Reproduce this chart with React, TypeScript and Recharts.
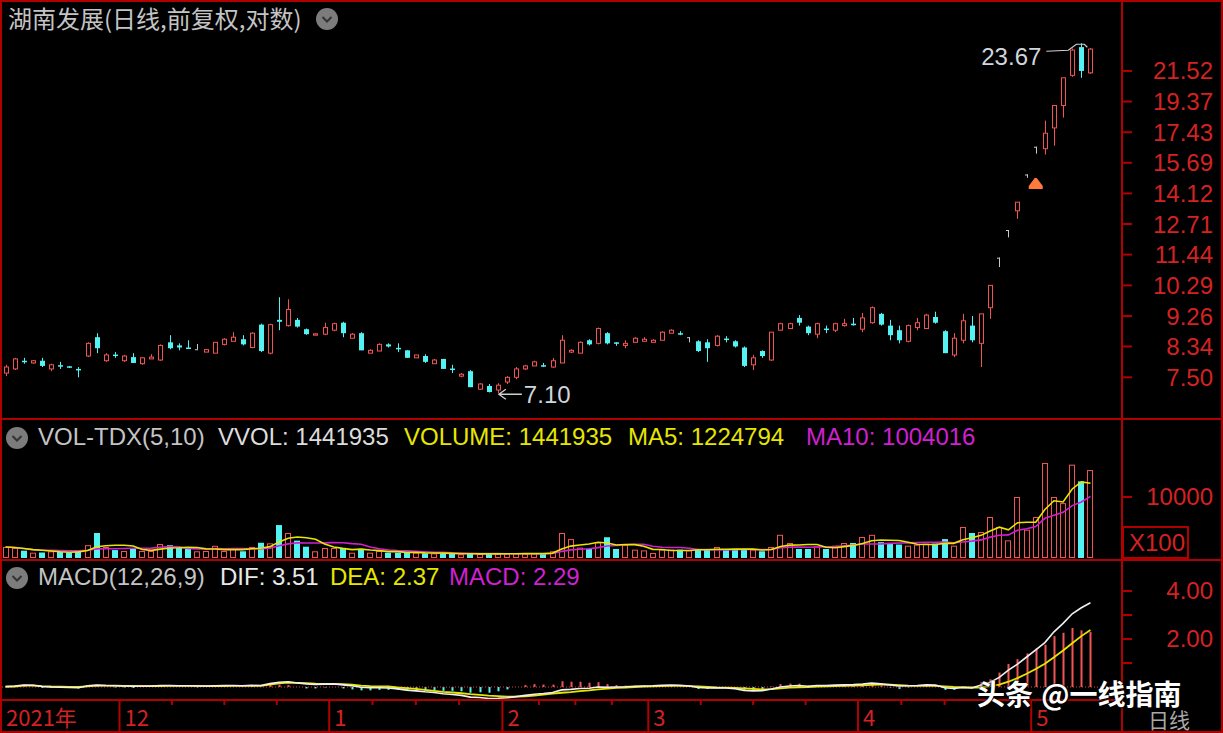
import React from "react";
import {
  ComposedChart,
  Bar,
  Line,
  XAxis,
  YAxis,
  ReferenceDot,
  ReferenceLine,
} from "recharts";

// daily candles, 2021-11-12 .. 2022-05-13 (forward adjusted)
const opens = [
  7.61, 7.72, 7.94, 7.88, 7.94, 7.72, 7.82, 7.79, 7.72, 8.07,
  8.61, 7.94, 8.11, 7.94, 8.04, 7.86, 7.99, 7.96, 8.46, 8.37,
  8.31, 8.26, 8.18, 8.15, 8.40, 8.49, 8.55, 8.31, 8.99, 8.15,
  9.14, 8.96, 9.14, 8.85, 8.67, 8.70, 8.82, 9.05, 8.58, 8.73,
  8.15, 8.21, 8.40, 8.30, 8.23, 8.02, 8.07, 7.86, 7.99, 7.73,
  7.53, 7.66, 7.20, 7.28, 7.18, 7.38, 7.50, 7.72, 7.80, 7.82,
  7.77, 7.88, 8.18, 8.15, 8.52, 8.43, 8.73, 8.46, 8.37, 8.46,
  8.49, 8.46, 8.52, 8.73, 8.73, 8.61, 8.49, 8.46, 8.37, 8.57,
  8.49, 8.31, 7.83, 8.21, 7.96, 8.82, 8.87, 9.20, 8.93, 8.70,
  8.87, 8.82, 8.96, 9.02, 8.85, 9.05, 9.33, 8.96, 8.82, 8.49,
  8.90, 8.87, 9.23, 8.79, 8.10, 8.52, 8.96, 8.43, 9.53, 11.32,
  12.45, 13.30, 15.07, 16.58, 16.47, 17.69, 19.11, 21.20, 23.36, 21.38,
];
const closes = [
  7.77, 7.99, 7.92, 7.94, 7.80, 7.83, 7.79, 7.76, 7.69, 8.43,
  8.29, 8.10, 8.08, 8.07, 7.88, 8.02, 8.04, 8.37, 8.29, 8.31,
  8.29, 8.26, 8.25, 8.46, 8.55, 8.61, 8.40, 8.73, 8.21, 8.99,
  9.08, 9.47, 8.93, 8.70, 8.71, 8.90, 9.02, 8.73, 8.70, 8.23,
  8.23, 8.40, 8.34, 8.27, 8.02, 8.10, 7.91, 7.96, 7.72, 7.71,
  7.58, 7.25, 7.33, 7.13, 7.30, 7.50, 7.72, 7.80, 7.91, 7.79,
  7.94, 8.52, 8.23, 8.46, 8.40, 8.87, 8.43, 8.43, 8.43, 8.58,
  8.55, 8.52, 8.76, 8.82, 8.72, 8.61, 8.21, 8.29, 8.64, 8.54,
  8.34, 7.80, 8.02, 8.07, 8.76, 9.02, 9.02, 9.05, 8.73, 9.02,
  8.85, 9.02, 9.02, 8.99, 9.20, 9.53, 8.99, 8.67, 8.52, 8.96,
  9.05, 9.29, 9.05, 8.15, 8.58, 9.11, 8.52, 9.33, 10.29, 11.32,
  12.45, 13.70, 15.07, 16.58, 17.37, 19.11, 21.02, 23.12, 21.52, 23.20,
];
const highs = [
  7.83, 8.02, 8.02, 7.96, 8.02, 7.86, 7.91, 7.80, 7.77, 8.46,
  8.73, 8.15, 8.18, 8.10, 8.15, 8.04, 8.12, 8.40, 8.67, 8.43,
  8.52, 8.41, 8.26, 8.46, 8.58, 8.76, 8.67, 8.76, 9.02, 9.02,
  9.88, 9.81, 9.20, 8.87, 8.73, 9.05, 9.05, 9.08, 8.73, 8.76,
  8.26, 8.43, 8.43, 8.43, 8.23, 8.10, 8.12, 7.99, 7.99, 7.83,
  7.61, 7.69, 7.35, 7.33, 7.35, 7.53, 7.77, 7.83, 7.94, 7.88,
  8.02, 8.67, 8.26, 8.49, 8.55, 8.90, 8.76, 8.46, 8.52, 8.61,
  8.61, 8.55, 8.79, 8.85, 8.79, 8.61, 8.52, 8.55, 8.67, 8.64,
  8.52, 8.34, 8.10, 8.23, 8.76, 9.05, 9.05, 9.29, 8.96, 9.05,
  8.96, 9.05, 9.17, 9.20, 9.36, 9.57, 9.36, 9.14, 8.96, 8.99,
  9.20, 9.33, 9.40, 8.82, 8.73, 9.33, 9.26, 9.33, 10.29, 11.32,
  12.45, 13.70, 15.07, 16.58, 18.14, 19.11, 21.02, 23.25, 23.67, 23.29,
];
const lows = [
  7.53, 7.69, 7.86, 7.86, 7.77, 7.66, 7.72, 7.75, 7.50, 8.04,
  8.15, 7.91, 8.02, 7.91, 7.88, 7.83, 7.99, 7.94, 8.26, 8.23,
  8.27, 8.26, 8.18, 8.15, 8.37, 8.49, 8.37, 8.29, 8.18, 8.12,
  8.82, 8.93, 8.90, 8.68, 8.67, 8.67, 8.79, 8.61, 8.58, 8.23,
  8.15, 8.21, 8.31, 8.18, 8.02, 8.02, 7.88, 7.86, 7.72, 7.61,
  7.50, 7.25, 7.18, 7.12, 7.10, 7.33, 7.45, 7.69, 7.80, 7.77,
  7.75, 7.88, 8.15, 8.15, 8.37, 8.40, 8.40, 8.36, 8.29, 8.46,
  8.49, 8.46, 8.52, 8.73, 8.67, 8.46, 8.18, 7.91, 8.34, 8.46,
  8.31, 7.77, 7.69, 8.02, 7.94, 8.82, 8.87, 8.96, 8.67, 8.58,
  8.73, 8.76, 8.93, 8.96, 8.76, 9.02, 8.96, 8.52, 8.43, 8.46,
  8.82, 8.87, 9.02, 8.15, 8.04, 8.43, 8.46, 7.77, 9.17, 10.96,
  12.14, 12.94, 14.90, 16.19, 16.14, 16.64, 18.33, 21.09, 21.02, 21.30,
];
// volume in units of 100 lots (axis shows X100)
const volumes = [
  1800, 1640, 1200, 870, 900, 1100, 1000, 900, 1100, 2100,
  4100, 1800, 1300, 1150, 1500, 1150, 1150, 2300, 2100, 1640,
  1500, 1100, 1150, 2000, 1150, 1500, 1100, 1800, 2500, 2400,
  5400, 4100, 2850, 1850, 1100, 1640, 1640, 1640, 870, 1500,
  870, 1150, 870, 870, 870, 870, 760, 760, 700, 700,
  600, 700, 650, 700, 700, 700, 760, 700, 760, 700,
  1100, 4100, 3100, 1700, 1500, 2560, 3400, 1480, 2180, 1370,
  1250, 820, 1370, 1370, 1370, 1250, 1370, 1370, 1800, 1370,
  1370, 1370, 1370, 1100, 1800, 3800, 2460, 1480, 1480, 1900,
  1480, 2020, 2460, 2460, 3440, 3800, 2600, 2300, 2200, 2020,
  2180, 2350, 2350, 3100, 2020, 5080, 4100, 4260, 6720, 5080,
  2890, 10000, 4640, 6720, 15570, 10000, 9000, 15300, 12560, 14419,
];
const difs = [
  0.02, 0.04, 0.08, 0.07, 0.02, 0.0, -0.01, -0.02, -0.03, 0.05,
  0.08, 0.06, 0.05, 0.04, 0.03, 0.04, 0.04, 0.06, 0.06, 0.05,
  0.05, 0.04, 0.04, 0.05, 0.06, 0.06, 0.05, 0.07, 0.06, 0.14,
  0.2, 0.22, 0.17, 0.13, 0.11, 0.12, 0.13, 0.09, 0.05, -0.01,
  -0.03, -0.03, -0.04, -0.08, -0.13, -0.16, -0.2, -0.23, -0.28, -0.31,
  -0.35, -0.42, -0.44, -0.48, -0.47, -0.45, -0.4, -0.35, -0.3, -0.27,
  -0.23, -0.12, -0.1, -0.06, -0.05, 0.0, -0.01, 0.0, 0.01, 0.03,
  0.04, 0.05, 0.07, 0.08, 0.07, 0.04, -0.02, -0.04, -0.03, -0.04,
  -0.07, -0.14, -0.16, -0.15, -0.08, 0.0, 0.04, 0.06, 0.03, 0.06,
  0.06, 0.08, 0.09, 0.1, 0.12, 0.16, 0.13, 0.09, 0.04, 0.05,
  0.06, 0.09, 0.08, -0.03, -0.06, -0.02, -0.04, 0.08, 0.2, 0.4,
  0.7, 0.95, 1.25, 1.55, 1.85, 2.3, 2.65, 3.05, 3.3, 3.51,
];
const deas = [
  0.01, 0.02, 0.06, 0.07, 0.04, 0.02, 0.01, 0.0, 0.0, 0.03,
  0.06, 0.06, 0.06, 0.05, 0.05, 0.04, 0.04, 0.04, 0.05, 0.05,
  0.05, 0.05, 0.04, 0.04, 0.04, 0.05, 0.05, 0.05, 0.05, 0.1,
  0.15, 0.18, 0.17, 0.16, 0.14, 0.13, 0.13, 0.12, 0.1, 0.06,
  0.04, 0.03, 0.02, -0.02, -0.05, -0.08, -0.12, -0.16, -0.2, -0.23,
  -0.26, -0.3, -0.33, -0.36, -0.38, -0.4, -0.4, -0.39, -0.36, -0.32,
  -0.28, -0.24, -0.21, -0.17, -0.14, -0.1, -0.07, -0.04, -0.02, 0.0,
  0.02, 0.03, 0.04, 0.05, 0.05, 0.04, 0.02, 0.0, -0.02, -0.03,
  -0.04, -0.06, -0.08, -0.1, -0.09, -0.06, -0.03, -0.01, 0.0, 0.02,
  0.03, 0.04, 0.05, 0.06, 0.07, 0.09, 0.1, 0.1, 0.08, 0.06,
  0.05, 0.05, 0.05, 0.03, 0.0, -0.01, -0.02, -0.02, 0.04, 0.1,
  0.22, 0.37, 0.55, 0.75, 0.97, 1.24, 1.52, 1.82, 2.12, 2.37,
];
const macdBars = [
  0.02, 0.04, 0.04, 0.0, -0.04, -0.04, -0.04, -0.04, -0.06, 0.04,
  0.04, 0.0, -0.02, -0.02, -0.04, 0.0, 0.0, 0.04, 0.02, 0.0,
  0.0, -0.02, 0.0, 0.02, 0.04, 0.02, 0.0, 0.04, 0.02, 0.08,
  0.1, 0.08, 0.0, -0.06, -0.06, -0.02, 0.0, -0.06, -0.1, -0.14,
  -0.14, -0.12, -0.12, -0.12, -0.16, -0.16, -0.16, -0.14, -0.16, -0.16,
  -0.18, -0.24, -0.22, -0.24, -0.18, -0.1, 0.0, 0.08, 0.12, 0.1,
  0.1, 0.24, 0.22, 0.22, 0.18, 0.2, 0.12, 0.08, 0.06, 0.06,
  0.04, 0.04, 0.06, 0.06, 0.04, 0.0, -0.08, -0.08, -0.02, -0.02,
  -0.06, -0.16, -0.16, -0.1, 0.02, 0.12, 0.14, 0.14, 0.06, 0.08,
  0.06, 0.08, 0.08, 0.08, 0.1, 0.14, 0.06, -0.02, -0.08, -0.02,
  0.02, 0.08, 0.06, -0.12, -0.12, -0.02, -0.04, 0.2, 0.32, 0.6,
  0.96, 1.16, 1.4, 1.6, 1.76, 2.12, 2.26, 2.46, 2.36, 2.29,
];

const priceTicks = [7.5, 8.34, 9.26, 10.29, 11.44, 12.71, 14.12, 15.69, 17.43, 19.37, 21.52];
const volTicks = [10000];
const macdTicks = [1, 2, 3, 4];
const macdLabelled = [2, 4];

// month boundaries and the small marks between them (in candle index units)
const monthMarks = [
  { at: -0.5, label: "2021年" },
  { at: 12.5, label: "12" },
  { at: 35.5, label: "1" },
  { at: 54.5, label: "2" },
  { at: 70.5, label: "3" },
  { at: 93.5, label: "4" },
  { at: 112.5, label: "5" },
];
const minorMarks = [18.25, 24, 29.75, 40.25, 45, 49.75, 58.5, 62.5, 66.5, 76.25, 82, 87.75, 98.25, 103, 107.75];

const maxMark = { idx: 118, price: 23.67 };
const minMark = { idx: 54, price: 7.1 };
const signalMark = { idx: 113, price: 14.58 };

const movingAvg = (arr: number[], n: number) =>
  arr.map((_, i) => {
    const s = arr.slice(Math.max(0, i - n + 1), i + 1);
    return s.reduce((a, b) => a + b, 0) / s.length;
  });
const volMa5 = movingAvg(volumes, 5);
const volMa10 = movingAvg(volumes, 10);

const rows = opens.map((o, i) => ({
  idx: i,
  open: o,
  close: closes[i],
  high: highs[i],
  low: lows[i],
  range: [lows[i], highs[i]],
  vol: volumes[i],
  ma5: volMa5[i],
  ma10: volMa10[i],
  dif: difs[i],
  dea: deas[i],
  macd: macdBars[i],
}));

const RED = "#f25454";
const CYAN = "#54f2f2";
const FLAT = "#c8c8c8";
const FRAME = "#b00000";
const AXIS_TEXT = "#d42222";
const YELLOW = "#e6e600";
const MAGENTA = "#d020d0";
const LATIN = '"Liberation Sans", Arial, "Noto Sans CJK SC", sans-serif';
const CJK = '"Noto Sans CJK SC", "Liberation Sans", sans-serif';

const xDomain: [number, number] = [-0.5, 122.46];

const Candle = (props: any) => {
  const { x, y, width, height, payload } = props;
  if (x == null || !payload) return null;
  const { open, close, high, low } = payload;
  const cx = Math.round(x + width / 2);
  const lh = Math.log(high);
  const span = lh - Math.log(low) || 1;
  const py = (v: number) => y + (height * (lh - Math.log(v))) / span;
  const top = py(Math.max(open, close));
  const bot = py(Math.min(open, close));
  const wx = cx + 0.5;
  if (close > open) {
    return (
      <g>
        <line x1={wx} x2={wx} y1={y} y2={top} stroke={RED} />
        <line x1={wx} x2={wx} y1={bot} y2={y + height} stroke={RED} />
        <rect x={cx - 1.5} y={top} width={4} height={Math.max(bot - top, 1)} fill="none" stroke={RED} />
      </g>
    );
  }
  if (close < open) {
    return (
      <g>
        <line x1={wx} x2={wx} y1={y} y2={y + height} stroke={CYAN} />
        <rect x={cx - 2} y={top} width={5} height={Math.max(bot - top, 1.5)} fill={CYAN} />
      </g>
    );
  }
  return (
    <g>
      <line x1={wx} x2={wx} y1={y} y2={y + height} stroke={FLAT} />
      <line x1={cx - 2} x2={cx + 1} y1={top + 0.5} y2={top + 0.5} stroke={FLAT} />
    </g>
  );
};

const VolBar = (props: any) => {
  const { x, y, width, height, payload } = props;
  if (x == null || !payload) return null;
  const cx = Math.round(x + width / 2);
  if (payload.close >= payload.open) {
    return <rect x={cx - 2.5} y={y + 0.5} width={5} height={Math.max(height - 1, 0)} fill="none" stroke={RED} />;
  }
  return <rect x={cx - 3} y={y} width={6} height={height} fill={CYAN} />;
};

const MacdBar = (props: any) => {
  const { x, y, width, height, payload } = props;
  if (x == null || !payload) return null;
  const cx = Math.round(x + width / 2) + 0.5;
  return (
    <line x1={cx} x2={cx} y1={y} y2={y + height} stroke={payload.macd >= 0 ? RED : CYAN} strokeWidth={2} />
  );
};

const RightTick = (props: any) => {
  const { x, y, payload, fmt } = props;
  const label = fmt(payload.value);
  if (!label) return null;
  return (
    <text x={x + 81} y={y} textAnchor="end" dominantBaseline="central" fill={AXIS_TEXT} fontSize={24} fontFamily={LATIN}>
      {label}
    </text>
  );
};

const DateTick = (props: any) => {
  const { x, y, payload } = props;
  const mark = monthMarks.find((m) => m.at === payload.value);
  if (!mark) return <line x1={x} x2={x} y1={y} y2={y + 5} stroke={FRAME} strokeWidth={2} />;
  return (
    <g>
      {mark.at > 0 && <line x1={x} x2={x} y1={y} y2={y + 33} stroke={FRAME} strokeWidth={2} />}
      <text x={x + 5} y={y + 16} dominantBaseline="central" fill={AXIS_TEXT} fontSize={22} fontFamily={CJK}>
        {mark.label}
      </text>
    </g>
  );
};

const MaxLabel = (props: any) => {
  const { cx, cy } = props;
  if (cx == null) return null;
  return (
    <g>
      <polyline
        points={`${cx - 35},${cy + 8} ${cx - 13},${cy + 7} ${cx - 5},${cy + 1} ${cx + 3},${cy + 1} ${cx + 6},${cy + 4}`}
        fill="none"
        stroke="#d0d0d0"
        strokeWidth={1.2}
      />
      <text x={cx - 40} y={cy + 13} textAnchor="end" dominantBaseline="central" fill="#cfd6dc" fontSize={24} fontFamily={LATIN}>
        23.67
      </text>
    </g>
  );
};

const MinLabel = (props: any) => {
  const { cx, cy } = props;
  if (cx == null) return null;
  return (
    <g>
      <path d={`M${cx + 1},${cy + 1} L${cx + 24},${cy + 1} M${cx + 8},${cy - 4} L${cx + 1},${cy + 1} L${cx + 8},${cy + 6}`} fill="none" stroke="#d0d0d0" strokeWidth={1.3} />
      <text x={cx + 26} y={cy + 1} dominantBaseline="central" fill="#cfd6dc" fontSize={24} fontFamily={LATIN}>
        7.10
      </text>
    </g>
  );
};

const SignalMark = (props: any) => {
  const { cx, cy } = props;
  if (cx == null) return null;
  return (
    <path
      d={`M${cx - 7},${cy + 5} L${cx - 7},${cy + 2} L${cx - 1},${cy - 6} L${cx + 1},${cy - 6} L${cx + 7},${cy + 2} L${cx + 7},${cy + 5} Z`}
      fill="#ff7a3c"
    />
  );
};

const Icon = ({ left, top }: { left: number; top: number }) => (
  <svg style={{ position: "absolute", left, top }} width={24} height={24}>
    <circle cx={12} cy={12} r={11} fill="#7c7c7c" />
    <polyline points="7.5,10 12,14.5 16.5,10" fill="none" stroke="#333" strokeWidth={2} />
  </svg>
);

const Txt = ({ left, cy, color, children, size = 24, font = LATIN, weight = 400 }: any) => (
  <div
    style={{
      position: "absolute",
      left,
      top: cy - 14,
      height: 28,
      lineHeight: "28px",
      fontSize: size,
      color,
      fontFamily: font,
      fontWeight: weight,
      whiteSpace: "nowrap",
    }}
  >
    {children}
  </div>
);

const hLine = (top: number, h = 2) => (
  <div style={{ position: "absolute", left: 0, top, width: 1223, height: h, background: FRAME }} />
);

export default function App() {
  return (
    <div
      style={{
        position: "absolute",
        left: 0,
        top: 0,
        width: 1223,
        height: 733,
        background: "#000",
        overflow: "hidden",
      }}
    >
      <div style={{ position: "absolute", left: 0, top: 0 }}>
        <ComposedChart width={1223} height={419} data={rows} margin={{ top: 0, right: 0, bottom: 0, left: 1 }}>
          <XAxis type="number" dataKey="idx" domain={xDomain} allowDataOverflow hide />
          <YAxis
            orientation="right"
            type="number"
            scale="log"
            domain={[6.498, 27.47]}
            allowDataOverflow
            ticks={priceTicks}
            interval={0}
            width={101}
            tickSize={10}
            tickMargin={0}
            axisLine={{ stroke: FRAME, strokeWidth: 2 }}
            tickLine={{ stroke: FRAME, strokeWidth: 2 }}
            tick={<RightTick fmt={(v: number) => v.toFixed(2)} />}
          />
          <Bar dataKey="range" barSize={7} shape={<Candle />} isAnimationActive={false} />
          <ReferenceDot x={maxMark.idx} y={maxMark.price} r={0} shape={<MaxLabel />} />
          <ReferenceDot x={minMark.idx} y={minMark.price} r={0} shape={<MinLabel />} />
          <ReferenceDot x={signalMark.idx} y={signalMark.price} r={0} shape={<SignalMark />} />
        </ComposedChart>
      </div>

      <div style={{ position: "absolute", left: 0, top: 420 }}>
        <ComposedChart width={1223} height={140} data={rows} margin={{ top: 0, right: 0, bottom: 0, left: 1 }}>
          <XAxis type="number" dataKey="idx" domain={xDomain} allowDataOverflow hide />
          <YAxis
            orientation="right"
            type="number"
            domain={[-328, 22623]}
            allowDataOverflow
            ticks={volTicks}
            interval={0}
            width={101}
            tickSize={10}
            tickMargin={0}
            axisLine={{ stroke: FRAME, strokeWidth: 2 }}
            tickLine={{ stroke: FRAME, strokeWidth: 2 }}
            tick={<RightTick fmt={(v: number) => String(v)} />}
          />
          <Bar dataKey="vol" barSize={7} shape={<VolBar />} isAnimationActive={false} />
          <Line dataKey="ma10" type="linear" stroke={MAGENTA} strokeWidth={1.6} dot={false} isAnimationActive={false} />
          <Line dataKey="ma5" type="linear" stroke={YELLOW} strokeWidth={1.6} dot={false} isAnimationActive={false} />
        </ComposedChart>
      </div>

      <div style={{ position: "absolute", left: 0, top: 561 }}>
        <ComposedChart width={1223} height={172} data={rows} margin={{ top: 0, right: 0, bottom: 0, left: 1 }}>
          <XAxis
            type="number"
            dataKey="idx"
            domain={xDomain}
            allowDataOverflow
            ticks={[...monthMarks.map((m) => m.at), ...minorMarks]}
            interval={0}
            height={33}
            tickSize={0}
            tickMargin={0}
            axisLine={{ stroke: FRAME, strokeWidth: 2 }}
            tickLine={false}
            tick={<DateTick />}
          />
          <YAxis
            orientation="right"
            type="number"
            domain={[-0.5417, 5.25]}
            allowDataOverflow
            ticks={macdTicks}
            interval={0}
            width={101}
            tickSize={10}
            tickMargin={0}
            axisLine={{ stroke: FRAME, strokeWidth: 2 }}
            tickLine={{ stroke: FRAME, strokeWidth: 2 }}
            tick={<RightTick fmt={(v: number) => (macdLabelled.includes(v) ? v.toFixed(2) : "")} />}
          />
          <ReferenceLine y={0} stroke="#e04040" strokeDasharray="1 2" />
          <Bar dataKey="macd" barSize={7} shape={<MacdBar />} isAnimationActive={false} />
          <Line dataKey="dea" type="linear" stroke={YELLOW} strokeWidth={1.8} dot={false} isAnimationActive={false} />
          <Line dataKey="dif" type="linear" stroke="#f0f0f0" strokeWidth={1.6} dot={false} isAnimationActive={false} />
        </ComposedChart>
      </div>

      {/* frame */}
      {hLine(0, 2)}
      {hLine(418, 2)}
      {hLine(559, 2)}
      {hLine(731, 2)}
      <div style={{ position: "absolute", left: 0, top: 0, width: 2, height: 733, background: FRAME }} />
      <div style={{ position: "absolute", left: 1121, top: 0, width: 2, height: 733, background: FRAME }} />
      <div style={{ position: "absolute", left: 1221, top: 0, width: 2, height: 733, background: FRAME }} />
      <div
        style={{
          position: "absolute",
          left: 1122,
          top: 526,
          width: 67,
          height: 33,
          border: `2px solid ${FRAME}`,
          boxSizing: "border-box",
          color: AXIS_TEXT,
          fontFamily: LATIN,
          fontSize: 24,
          lineHeight: "30px",
          paddingLeft: 5,
        }}
      >
        X100
      </div>

      {/* titles */}
      <Txt left={8} cy={18} color="#c4c4c4" font={CJK}>
        湖南发展(日线,前复权,对数)
      </Txt>
      <Icon left={315} top={7} />

      <Icon left={5} top={426} />
      <Txt left={38} cy={437} color="#c4c4c4">VOL-TDX(5,10)</Txt>
      <Txt left={218} cy={437} color="#dcdcdc">VVOL: 1441935</Txt>
      <Txt left={404} cy={437} color={YELLOW}>VOLUME: 1441935</Txt>
      <Txt left={628} cy={437} color={YELLOW}>MA5: 1224794</Txt>
      <Txt left={806} cy={437} color={MAGENTA}>MA10: 1004016</Txt>

      <Icon left={5} top={566} />
      <Txt left={38} cy={577} color="#c4c4c4">MACD(12,26,9)</Txt>
      <Txt left={220} cy={577} color="#e8e8e8">DIF: 3.51</Txt>
      <Txt left={330} cy={577} color={YELLOW}>DEA: 2.37</Txt>
      <Txt left={449} cy={577} color={MAGENTA}>MACD: 2.29</Txt>

      <Txt left={1148} cy={719} color="#a8a8a8" font={CJK} size={21}>日线</Txt>
      <div
        style={{
          position: "absolute",
          left: 977,
          top: 679,
          height: 28,
          fontFamily: CJK,
          fontWeight: 700,
          fontSize: 28,
          lineHeight: "28px",
          color: "#fff",
          whiteSpace: "nowrap",
          textShadow: "0 0 2px #000, 1px 1px 2px #000",
        }}
      >
        头条 <span style={{ marginLeft: 2 }}>@一线指南</span>
      </div>
    </div>
  );
}
